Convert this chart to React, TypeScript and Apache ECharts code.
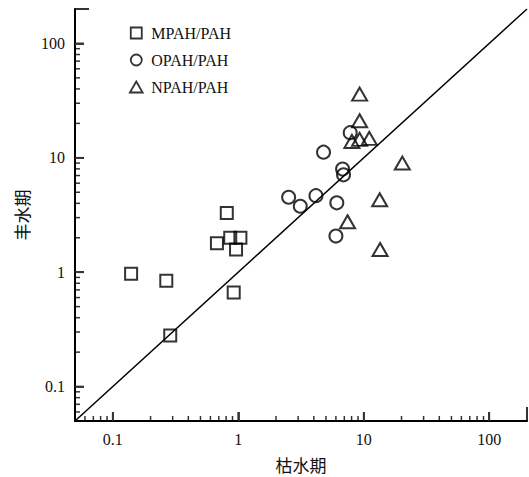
import React, { useEffect, useRef } from "react";
import * as echarts from "echarts";

const seriesNames = ["MPAH/PAH", "OPAH/PAH", "NPAH/PAH"];

const mpah: [number, number][] = [
  [0.14, 0.97], [0.267, 0.84], [0.287, 0.279], [0.81, 3.3], [0.676, 1.79],
  [0.863, 2.0], [1.04, 2.0], [0.96, 1.58], [0.92, 0.666],
];
const opah: [number, number][] = [
  [2.52, 4.52], [3.12, 3.77], [4.16, 4.67], [4.78, 11.2], [6.1, 4.04],
  [6.78, 7.97], [6.9, 7.1], [7.8, 16.6], [6.0, 2.07],
];
const npah: [number, number][] = [
  [9.27, 36.0], [9.27, 21.1], [8.05, 13.9], [9.27, 14.5], [11.07, 14.8],
  [20.3, 9.0], [13.4, 4.3], [7.43, 2.76], [13.5, 1.58],
];

const axisMin = 0.05;
const axisMax = 200;
const oneToOne: [number, number][] = [[axisMin, axisMin], [axisMax, axisMax]];
const majorTickValues = [0.1, 1, 10, 100];
const minorTickValues = [
  0.06, 0.07, 0.08, 0.09,
  0.2, 0.3, 0.4, 0.5, 0.6, 0.7, 0.8, 0.9,
  2, 3, 4, 5, 6, 7, 8, 9,
  20, 30, 40, 50, 60, 70, 80, 90,
];

const serif = "'Liberation Serif', 'Times New Roman', serif";
const cjk = "'Noto Sans CJK SC', sans-serif";
const tickColor = "#333333";

export default function App() {
  const ref = useRef<HTMLDivElement>(null);
  useEffect(() => {
    if (!ref.current) return;
    const chart = echarts.init(ref.current, undefined, { renderer: "svg" });
    const markerStyle = { color: "transparent", borderColor: "#000", borderWidth: 2 };
    const axisCommon = {
      type: "log",
      logBase: 10,
      min: axisMin,
      max: axisMax,
      axisLine: { show: true, lineStyle: { color: "#000", width: 2 } },
      axisTick: { show: true, inside: true, length: 9, lineStyle: { color: tickColor, width: 1.8 } },
      axisLabel: {
        showMinLabel: false,
        showMaxLabel: false,
        color: "#111",
        fontFamily: serif,
        fontSize: 16,
        margin: 10,
      },
      splitLine: { show: false },
      nameLocation: "middle",
      nameTextStyle: { fontFamily: cjk, fontSize: 17, color: "#111" },
    };
    chart.setOption({
      animation: false,
      grid: { left: 75, top: 9, right: 2, bottom: 56, outerBoundsMode: "none" },
      legend: {
        orient: "vertical",
        left: 124,
        top: 20,
        itemWidth: 20,
        itemHeight: 11,
        itemGap: 11,
        symbolKeepAspect: true,
        data: [
          { name: seriesNames[0], icon: "path://M0,0L10,0L10,10L0,10Z" },
          { name: seriesNames[1], icon: "path://M5,0A5,5,0,1,1,5,10A5,5,0,1,1,5,0Z" },
          { name: seriesNames[2], icon: "path://M5.5,0L11,9.5L0,9.5Z" },
        ],
        itemStyle: { color: "transparent", borderColor: "#000", borderWidth: 1.8 },
        textStyle: { fontFamily: serif, fontSize: 16, color: "#111" },
      },
      xAxis: { ...axisCommon, name: "枯水期", nameGap: 35 },
      yAxis: { ...axisCommon, name: "丰水期", nameGap: 32, nameRotate: 90 },
      series: [
        {
          type: "line",
          data: oneToOne,
          symbol: "none",
          lineStyle: { color: "#000", width: 1.5 },
          silent: true,
          z: 1,
        },
        {
          name: seriesNames[0],
          type: "scatter",
          symbol: "rect",
          symbolSize: 12,
          data: mpah,
          itemStyle: markerStyle,
          z: 3,
        },
        {
          name: seriesNames[1],
          type: "scatter",
          symbol: "circle",
          symbolSize: 13,
          data: opah,
          itemStyle: markerStyle,
          z: 3,
        },
        {
          name: seriesNames[2],
          type: "scatter",
          symbol: "triangle",
          symbolSize: [15, 13],
          data: npah,
          itemStyle: markerStyle,
          z: 3,
        },
      ],
    });

    const finder = { xAxisIndex: 0, yAxisIndex: 0 };
    const ticks: any[] = [];
    const addTicks = (v: number, len: number, width: number) => {
      const px = chart.convertToPixel(finder, [v, axisMin]) as number[];
      const py = chart.convertToPixel(finder, [axisMin, v]) as number[];
      ticks.push({
        type: "line",
        shape: { x1: px[0], y1: px[1], x2: px[0], y2: px[1] - len },
        style: { stroke: tickColor, lineWidth: width },
      });
      ticks.push({
        type: "line",
        shape: { x1: py[0], y1: py[1], x2: py[0] + len, y2: py[1] },
        style: { stroke: tickColor, lineWidth: width },
      });
    };
    minorTickValues.forEach((v) => addTicks(v, 5, 1.5));
    majorTickValues.forEach((v) => addTicks(v, 9, 1.8));
    addTicks(axisMax, 14, 2);
    chart.setOption({ graphic: ticks });

    return () => chart.dispose();
  }, []);
  return (
    <div
      ref={ref}
      style={{ position: "absolute", left: 0, top: 0, width: 529, height: 477, background: "#fff" }}
    />
  );
}
